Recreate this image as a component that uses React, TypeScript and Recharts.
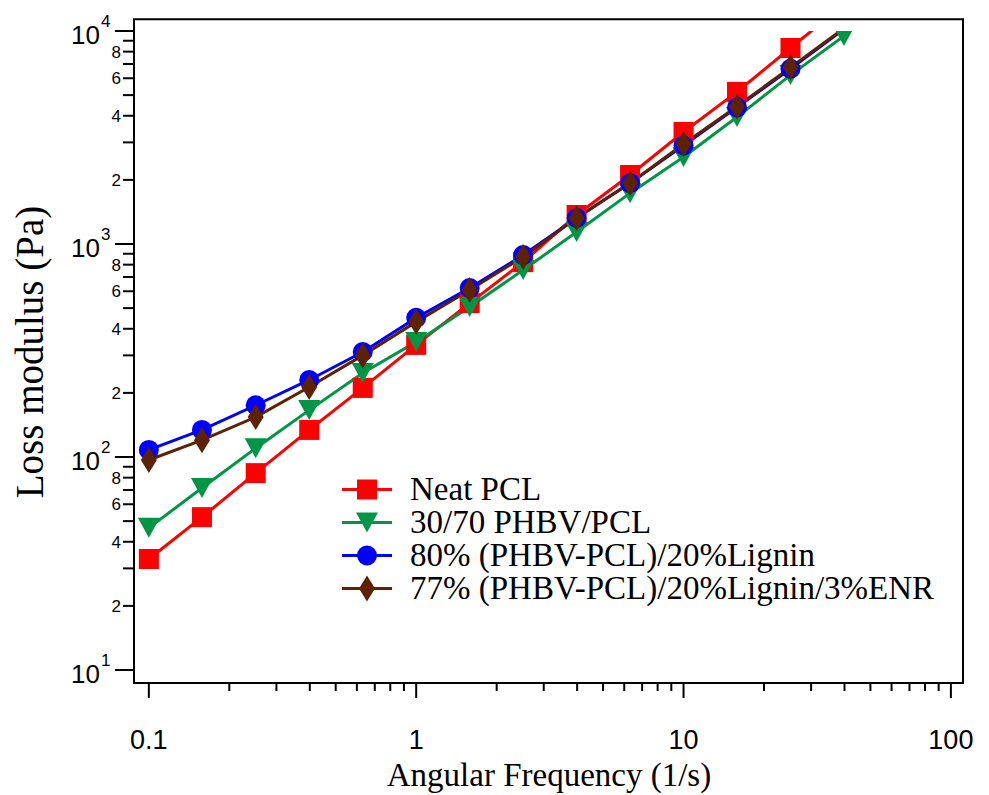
import { LineChart, Line, XAxis, YAxis, ReferenceArea, Legend } from 'recharts'

// angular frequency (1/s), 5 points per decade
const freq = [0.1, 0.158, 0.251, 0.398, 0.631, 1, 1.585, 2.512, 3.981, 6.31, 10, 15.85, 25.12, 39.81]

// loss modulus (Pa)
const neatPcl = [33.2, 52.2, 84, 134, 211, 336, 528, 822, 1368, 2108, 3356, 5176, 8321, 13300]
const phbvPcl = [46.5, 71.5, 110, 166, 248, 347, 506, 755, 1138, 1733, 2560, 3945, 6210, 9475]
const lignin = [108, 134, 175, 230, 311, 450, 621, 887, 1324, 1931, 2900, 4380, 6650, 10200]
const ligninEnr = [96.8, 120, 154, 213, 300, 431, 608, 870, 1324, 1931, 2950, 4420, 6750, 10300]

const seriesNames = [
  'Neat PCL',
  '30/70 PHBV/PCL',
  '80% (PHBV-PCL)/20%Lignin',
  '77% (PHBV-PCL)/20%Lignin/3%ENR',
]

const xTicks = [
  0.1, 0.2, 0.3, 0.4, 0.5, 0.6, 0.7, 0.8, 0.9,
  1, 2, 3, 4, 5, 6, 7, 8, 9,
  10, 20, 30, 40, 50, 60, 70, 80, 90, 100,
]
const yTicks = [
  10, 20, 30, 40, 50, 60, 70, 80, 90,
  100, 200, 300, 400, 500, 600, 700, 800, 900,
  1000, 2000, 3000, 4000, 5000, 6000, 7000, 8000, 9000, 10000,
]
const yMinorLabels = [2, 4, 6, 8]

const X_DOMAIN = [0.088, 111]
const Y_DOMAIN = [8.69, 10000] // data is clipped at 10^4 like the original
const FRAME_TOP = 11350

const SANS = "'Liberation Sans', Arial, sans-serif"
const SERIF = "'Liberation Serif', 'Times New Roman', serif"

const rows = freq.map((f, i) => ({
  f,
  neat: neatPcl[i],
  phbv: phbvPcl[i],
  lig: lignin[i],
  enr: ligninEnr[i],
}))

type Shape = 'square' | 'down' | 'circle' | 'diamond'

const series: { key: string; color: string; shape: Shape }[] = [
  { key: 'neat', color: '#ff0000', shape: 'square' },
  { key: 'phbv', color: '#009645', shape: 'down' },
  { key: 'lig', color: '#0000ff', shape: 'circle' },
  { key: 'enr', color: '#5e2102', shape: 'diamond' },
]

function marker(shape: Shape, cx: number, cy: number, color: string) {
  if (shape === 'square')
    return <rect x={cx - 10} y={cy - 10} width={20} height={20} fill={color} />
  if (shape === 'down')
    return (
      <polygon
        points={`${cx - 11},${cy - 10} ${cx + 11},${cy - 10} ${cx},${cy + 10}`}
        fill={color}
      />
    )
  if (shape === 'circle') return <circle cx={cx} cy={cy} r={10} fill={color} />
  return (
    <polygon
      points={`${cx},${cy - 13} ${cx + 8},${cy} ${cx},${cy + 13} ${cx - 8},${cy}`}
      fill={color}
    />
  )
}

function makeDot(shape: Shape, color: string) {
  return (props: any) => {
    const { cx, cy, value, index } = props
    if (cx == null || cy == null || value > Y_DOMAIN[1]) return <g key={index} />
    return <g key={index}>{marker(shape, cx, cy, color)}</g>
  }
}

function mantissa(v: number) {
  const e = Math.floor(Math.log10(v) + 1e-9)
  return { e, m: Math.round(v / 10 ** e) }
}

function XTick({ x, y, payload }: any) {
  const v = payload.value as number
  const { m } = mantissa(v)
  const major = m === 1
  return (
    <g>
      <line x1={x} x2={x} y1={y} y2={y + (major ? 15 : 8)} stroke="#000" strokeWidth={2} />
      {major && (
        <text x={x} y={y + 66} textAnchor="middle" fontFamily={SANS} fontSize={27} fill="#000">
          {String(v)}
        </text>
      )}
    </g>
  )
}

function YTick({ x, y, payload }: any) {
  const v = payload.value as number
  const { e, m } = mantissa(v)
  const major = m === 1
  return (
    <g>
      <line x1={x - (major ? 19 : 11)} x2={x} y1={y} y2={y} stroke="#000" strokeWidth={2} />
      {major && (
        <>
          <text x={x - 34} y={y + 13} textAnchor="end" fontFamily={SANS} fontSize={26} fill="#000">
            10
          </text>
          <text x={x - 33} y={y - 4} textAnchor="start" fontFamily={SANS} fontSize={17} fill="#000">
            {e}
          </text>
        </>
      )}
      {yMinorLabels.includes(m) && (
        <text x={x - 13} y={y + 6} textAnchor="end" fontFamily={SANS} fontSize={17} fill="#000">
          {m}
        </text>
      )}
    </g>
  )
}

function LegendBox() {
  return (
    <div>
      {series.map((s, i) => (
        <div key={s.key} style={{ display: 'flex', alignItems: 'center', height: 33 }}>
          <svg width={56} height={33} style={{ overflow: 'visible' }}>
            <line x1={6} x2={56} y1={16.5} y2={16.5} stroke={s.color} strokeWidth={3} />
            {marker(s.shape, 31, 16.5, s.color)}
          </svg>
          <span
            style={{
              marginLeft: 18,
              fontFamily: SERIF,
              fontSize: 33,
              lineHeight: '33px',
              color: '#000',
              whiteSpace: 'nowrap',
            }}
          >
            {seriesNames[i]}
          </span>
        </div>
      ))}
    </div>
  )
}

export default function App() {
  return (
    <div style={{ position: 'absolute', left: 0, top: 0, background: '#fff' }}>
      <LineChart
        width={989}
        height={795}
        data={rows}
        margin={{ top: 31, right: 26, bottom: 0, left: 0 }}
      >
        <ReferenceArea
          x1={X_DOMAIN[0]}
          x2={X_DOMAIN[1]}
          y1={Y_DOMAIN[0]}
          y2={FRAME_TOP}
          ifOverflow="visible"
          fill="none"
          fillOpacity={0}
          stroke="#000"
          strokeWidth={2}
        />
        <XAxis
          dataKey="f"
          type="number"
          scale="log"
          domain={X_DOMAIN}
          allowDataOverflow
          ticks={xTicks}
          interval={0}
          tick={<XTick />}
          tickLine={false}
          tickSize={0}
          tickMargin={0}
          height={112}
          axisLine={{ stroke: '#000', strokeWidth: 2 }}
          label={() => (
            <text x={549} y={786} textAnchor="middle" fontFamily={SERIF} fontSize={33} fill="#000">
              Angular Frequency (1/s)
            </text>
          )}
        />
        <YAxis
          type="number"
          scale="log"
          domain={Y_DOMAIN}
          allowDataOverflow
          ticks={yTicks}
          interval={0}
          tick={<YTick />}
          tickLine={false}
          tickSize={0}
          tickMargin={0}
          width={134}
          axisLine={{ stroke: '#000', strokeWidth: 2 }}
          label={() => (
            <text
              x={29}
              y={352}
              transform="rotate(-90, 29, 352)"
              textAnchor="middle"
              dominantBaseline="central"
              fontFamily={SERIF}
              fontSize={39}
              fill="#000"
            >
              Loss modulus (Pa)
            </text>
          )}
        />
        <Legend
          layout="vertical"
          align="center"
          verticalAlign="middle"
          wrapperStyle={{ left: 336, top: 473, width: 640 }}
          content={() => <LegendBox />}
        />
        {series.map((s) => (
          <Line
            key={s.key}
            type="linear"
            dataKey={s.key}
            stroke={s.color}
            strokeWidth={3}
            dot={makeDot(s.shape, s.color)}
            activeDot={false}
            isAnimationActive={false}
          />
        ))}
      </LineChart>
    </div>
  )
}
